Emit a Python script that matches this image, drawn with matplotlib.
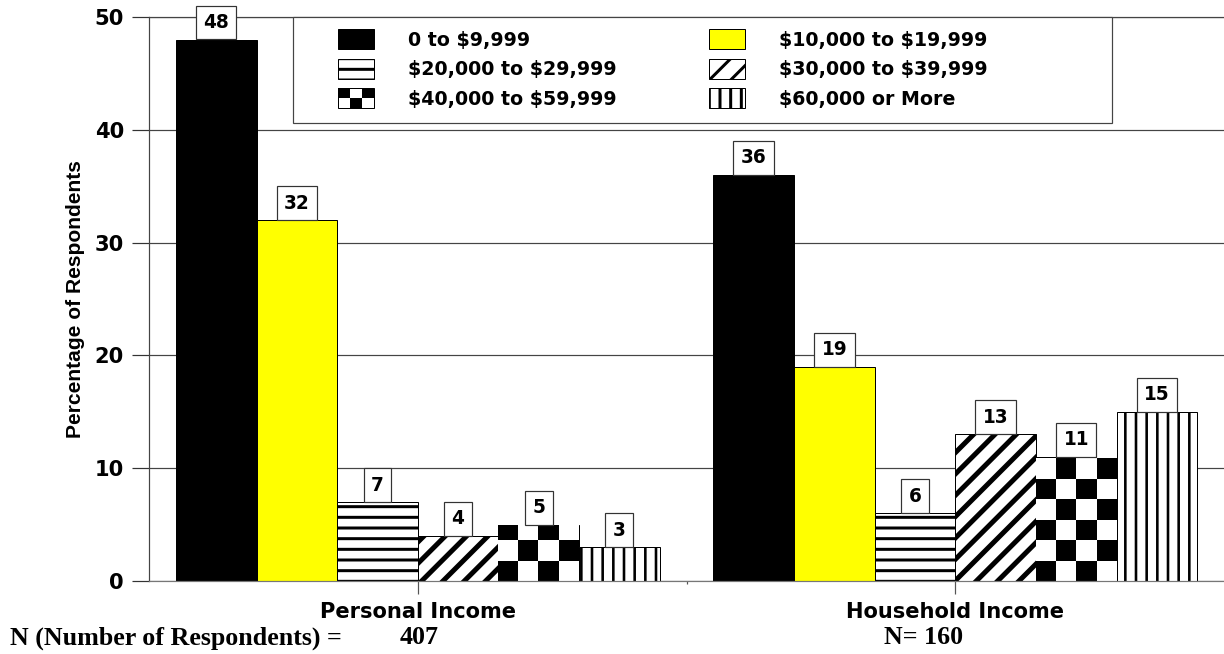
import numpy as np
import matplotlib
matplotlib.use('Agg')
import matplotlib.pyplot as plt
from matplotlib.patches import Patch, Rectangle
from matplotlib.legend_handler import HandlerBase

# survey data: share of respondents per income bracket
groups = ['Personal Income', 'Household Income']
brackets = ['0 to $9,999', '$10,000 to $19,999', '$20,000 to $29,999',
            '$30,000 to $39,999', '$40,000 to $59,999', '$60,000 or More']
personal = [48, 32, 7, 4, 5, 3]
household = [36, 19, 6, 13, 11, 15]
n_personal = 407
n_household = 160

DPI = 128
W, H = 1224, 654


def pt(px):
    # sizes are worked out in pixels, matplotlib wants points
    return px * 72.0 / DPI


plt.rcParams['hatch.color'] = 'black'
plt.rcParams['hatch.linewidth'] = pt(3)

heavy = 'DejaVu Sans'

# fill style for each bracket: (facecolor, hatch, hatch width px, checker?)
styles = [('black', None, 0, False), ('#ffff00', None, 0, False),
          ('white', '--', 3, False), ('white', '//', 5, False),
          ('white', None, 0, True), ('white', '||', 2.6, False)]


def checker_image(ax, bar, ncols=4, cell_h=1.8):
    x0 = bar.get_x()
    w = bar.get_width()
    h = bar.get_height()
    nrows = int(np.ceil(h / cell_h))
    rows, cols = np.indices((nrows, ncols))
    img = ((rows + cols) % 2 == 0).astype(float)
    im = ax.imshow(img, cmap='gray_r', vmin=0, vmax=1, origin='lower',
                   extent=[x0, x0 + w, 0, nrows * cell_h], aspect='auto',
                   interpolation='nearest', zorder=2)
    im.set_clip_path(bar)


class CheckerHandler(HandlerBase):
    def create_artists(self, legend, orig, xdescent, ydescent, width, height,
                       fontsize, trans):
        arts = []
        nx, ny = 3, 2
        for i in range(nx):
            for j in range(ny):
                c = 'black' if (i + j) % 2 == 1 else 'white'
                arts.append(Rectangle((-xdescent + i * width / nx, -ydescent + j * height / ny),
                                      width / nx, height / ny, facecolor=c,
                                      edgecolor='none', transform=trans))
        arts.append(Rectangle((-xdescent, -ydescent), width, height, facecolor='none',
                              edgecolor='black', lw=pt(1), transform=trans))
        return arts


def hatch_width(p, lw):
    if lw and hasattr(p, 'set_hatch_linewidth'):
        p.set_hatch_linewidth(pt(lw))


fig = plt.figure(figsize=(W / DPI, H / DPI), dpi=DPI)
ax = fig.add_axes([149 / W, 1 - 581 / H, 1 - 149 / W, (581 - 17) / H])

values = np.array([personal, household])
gx = np.arange(len(groups))
w = 0.15
for i in range(len(brackets)):
    fc, hatch, hlw, checker = styles[i]
    xs = gx + (i - 2.5) * w
    bars = ax.bar(xs, values[:, i], w, facecolor=fc, edgecolor='black',
                  linewidth=pt(1), hatch=hatch, zorder=2)
    for b, v in zip(bars, values[:, i]):
        hatch_width(b, hlw)
        if checker:
            checker_image(ax, b)
        ax.annotate(str(v), (b.get_x() + w / 2, v), xytext=(0, pt(7.5)),
                    textcoords='offset points', ha='center', va='bottom',
                    fontsize=pt(18.5), fontweight='bold', family=heavy, zorder=5,
                    bbox=dict(boxstyle='square,pad=0.4', facecolor='white',
                              edgecolor='#333333', linewidth=pt(1.2)))

ax.set_xlim(-0.5, 1.5)
ax.set_ylim(0, 50)
ax.set_yticks(np.arange(0, 51, 10))
ax.set_xticks(gx)
ax.set_xticklabels(groups, fontsize=pt(21), fontweight='bold', family=heavy)
ax.set_xticks([0.5], minor=True)
ax.tick_params(axis='x', which='major', length=pt(13), width=pt(1.2), color='#555555', pad=pt(8))
ax.tick_params(axis='x', which='minor', length=pt(3), width=pt(1.2), color='#555555')
ax.tick_params(axis='y', length=pt(17), width=pt(1.2), color='#333333', pad=pt(8))
for t in ax.get_yticklabels():
    t.set_fontsize(pt(21))
    t.set_fontweight('bold')
ax.yaxis.grid(True, color='#444444', linewidth=pt(1.2))
ax.set_axisbelow(True)
ax.spines['right'].set_visible(False)
ax.spines['top'].set_color('#444444')
ax.spines['left'].set_color('#444444')
ax.spines['bottom'].set_color('#777777')
for s in ax.spines.values():
    s.set_linewidth(pt(1.2))

ax.set_ylabel('Percentage of Respondents', fontsize=pt(21), fontweight='bold',
              family='Liberation Sans', labelpad=pt(10))

# legend frame drawn separately so the entries can sit further in
frame = Rectangle((293 / W, 1 - 123 / H), 819 / W, 106 / H,
                  transform=fig.transFigure, facecolor='white', edgecolor='#444444',
                  linewidth=pt(1.2), zorder=6)
fig.add_artist(frame)

handles = []
for fc, hatch, hlw, checker in styles:
    if checker:
        h = Patch(facecolor='white', edgecolor='black')
    else:
        h = Patch(facecolor=fc, edgecolor='black', hatch=hatch, linewidth=pt(1))
        hatch_width(h, hlw)
    handles.append(h)
order = [0, 2, 4, 1, 3, 5]
labels = [brackets[k].replace('$', r'\$') for k in order]
lfs = 19.0
leg = fig.legend([handles[k] for k in order], labels, ncol=2,
                 loc='upper left', bbox_to_anchor=(338 / W, 1 - 29 / H),
                 frameon=False, borderaxespad=0, borderpad=0,
                 prop=dict(family=heavy, weight='bold', size=pt(lfs)),
                 handlelength=36 / lfs, handleheight=24 / lfs, handletextpad=34 / lfs,
                 labelspacing=9 / lfs, columnspacing=92 / lfs,
                 handler_map={handles[4]: CheckerHandler()})
leg.set_zorder(7)

fig.text(10 / W, 1 - 638 / H, 'N (Number of Respondents) =',
         family='Liberation Serif', fontweight='bold', fontsize=pt(26), va='center')
fig.text(400 / W, 1 - 638 / H, '%d' % n_personal,
         family='Liberation Serif', fontweight='bold', fontsize=pt(26), va='center')
fig.text(924 / W, 1 - 638 / H, 'N= %d' % n_household,
         family='Liberation Serif', fontweight='bold', fontsize=pt(26), va='center', ha='center')

fig.savefig('out.png', dpi=DPI)
